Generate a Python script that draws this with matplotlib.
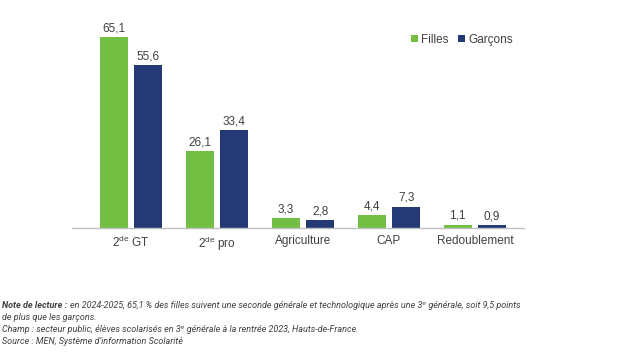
import matplotlib
matplotlib.use("Agg")
import matplotlib.pyplot as plt
import numpy as np

categories = [r"2$^{\mathregular{de}}$ GT", r"2$^{\mathregular{de}}$ pro", "Agriculture", "CAP", "Redoublement"]
filles = [65.1, 26.1, 3.3, 4.4, 1.1]
garcons = [55.6, 33.4, 2.8, 7.3, 0.9]
series_names = ["Filles", "Garçons"]

green = "#72BF44"
navy = "#233A77"
txt = "#404040"

plt.rcParams['font.family'] = ['Liberation Sans', 'DejaVu Sans']

fig = plt.figure(figsize=(6.2, 3.58), dpi=100)
ax = fig.add_axes([72/620, 1-228/358, (524-72)/620, (228-22.6)/358])

x = np.arange(len(categories))
w = 0.325
off = 0.2
b1 = ax.bar(x - off, filles, w, color=green, label=series_names[0])
b2 = ax.bar(x + off, garcons, w, color=navy, label=series_names[1])

def fmt(v):
    return f"{v:.1f}".replace(".", ",")

for bars, vals in ((b1, filles), (b2, garcons)):
    for r, v in zip(bars, vals):
        ax.annotate(fmt(v), (r.get_x() + r.get_width()/2, v), xytext=(0, 2),
                    textcoords="offset points", ha="center", va="bottom",
                    fontsize=8.5, color=txt)

ax.set_xlim(-0.686, 4.57)
ax.set_ylim(0, 70)
ax.set_xticks(x)
ax.set_xticklabels(categories, fontsize=8.5, color=txt)
ax.tick_params(axis='x', length=0, pad=5)
ax.set_yticks([])
for s in ("left", "right", "top"):
    ax.spines[s].set_visible(False)
ax.spines["bottom"].set_color("#BFBFBF")
ax.spines["bottom"].set_linewidth(1.0)

leg = fig.legend(handles=[b1, b2], labels=series_names, loc="center",
                 bbox_to_anchor=(462/620, 1-40/358), ncol=2, frameon=False,
                 fontsize=8.5, handlelength=0.55, handleheight=0.55,
                 handletextpad=0.3, columnspacing=0.8)
for t in leg.get_texts():
    t.set_color(txt)

# Note
note_color = "#404040"
fs = 6.5
fam = ['Roboto', 'DejaVu Sans']
renderer = fig.canvas.get_renderer()
y1 = 1 - 305/358
t0 = fig.text(2/620, y1, "Note de lecture :", fontsize=fs, fontstyle="italic",
              fontweight="bold", family=fam, color=note_color, va="center")
bb = t0.get_window_extent(renderer=renderer)
fig.text((bb.x1 + 3)/620, y1,
         "en 2024-2025, 65,1 % des filles suivent une seconde générale et technologique après une 3ᵉ générale, soit 9,5 points",
         fontsize=fs, fontstyle="italic", family=fam, color=note_color, va="center")
lines = ["de plus que les garçons.",
         "Champ : secteur public, élèves scolarisés en 3ᵉ générale à la rentrée 2023, Hauts-de-France.",
         "Source : MEN, Système d’information Scolarité"]
for i, l in enumerate(lines):
    fig.text(2/620, 1 - (317 + 12*i)/358, l, fontsize=fs, fontstyle="italic",
             family=fam, color=note_color, va="center")

fig.savefig("out.png", dpi=100)
